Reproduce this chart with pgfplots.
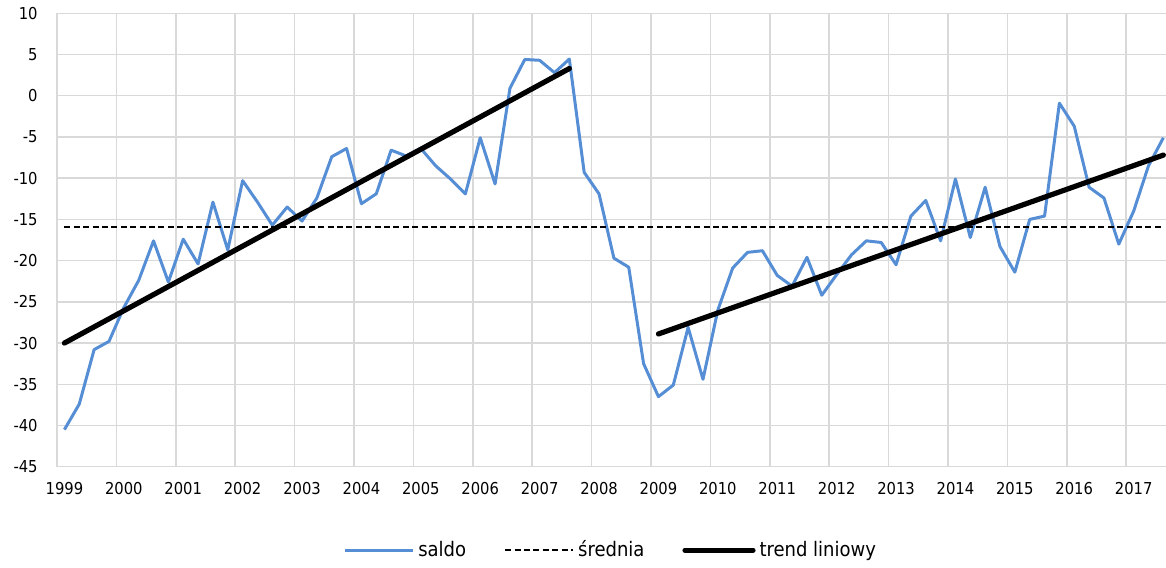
\documentclass[border=0pt]{standalone}
\usepackage{fontspec}
\setmainfont{DejaVu Sans Condensed}
\usepackage{pgfplots}
\pgfplotsset{compat=1.18}
\definecolor{saldoc}{RGB}{85,142,213}
\definecolor{gridc}{RGB}{217,217,217}
\pgfplotstableread{
i v
0 -40.5
1 -37.4
2 -30.8
3 -29.8
4 -25.7
5 -22.4
6 -17.6
7 -22.6
8 -17.4
9 -20.4
10 -12.9
11 -18.7
12 -10.3
13 -12.9
14 -15.7
15 -13.5
16 -15.2
17 -12.4
18 -7.4
19 -6.4
20 -13.1
21 -11.9
22 -6.6
23 -7.3
24 -6.4
25 -8.5
26 -10.1
27 -11.9
28 -5.1
29 -10.7
30 0.9
31 4.4
32 4.3
33 2.8
34 4.45
35 -9.3
36 -11.9
37 -19.7
38 -20.8
39 -32.5
40 -36.5
41 -35.1
42 -28.1
43 -34.4
44 -26.0
45 -20.9
46 -19.0
47 -18.8
48 -21.8
49 -23.1
50 -19.6
51 -24.2
52 -21.7
53 -19.3
54 -17.6
55 -17.8
56 -20.5
57 -14.6
58 -12.7
59 -17.6
60 -10.1
61 -17.2
62 -11.1
63 -18.3
64 -21.4
65 -15.0
66 -14.6
67 -0.9
68 -3.7
69 -11.1
70 -12.4
71 -18.0
72 -14.0
73 -8.5
74 -5.1
}\saldo
\begin{document}
\begin{tikzpicture}
\useasboundingbox (-28.5pt,-50.15pt) rectangle (554.5pt,233.35pt);
\begin{axis}[
  at={(0pt,0pt)}, anchor=south west,
  scale only axis, width=554.65pt, height=226.7pt,
  xmin=-0.5, xmax=74.2, ymin=-45, ymax=10,
  xtick={-0.5,3.5,7.5,11.5,15.5,19.5,23.5,27.5,31.5,35.5,39.5,43.5,47.5,51.5,55.5,59.5,63.5,67.5,71.5},
  xticklabels={1999,2000,2001,2002,2003,2004,2005,2006,2007,2008,2009,2010,2011,2012,2013,2014,2015,2016,2017},
  xticklabel style={anchor=north, inner sep=0pt, yshift=-7.5pt, xshift=3.71pt, font=\fontsize{8.2pt}{9pt}\selectfont},
  ytick={-45,-40,-35,-30,-25,-20,-15,-10,-5,0,5,10},
  yticklabel style={anchor=east, inner sep=0pt, xshift=-9.5pt, font=\fontsize{8.2pt}{9pt}\selectfont},
  /pgf/number format/assume math mode=true,
  grid=major, grid style={gridc, line width=0.75pt},
  axis line style={draw=none}, tick style={draw=none},
  legend style={at={(axis description cs:0.5,-0.184)}, anchor=center, draw=none, fill=none,
    legend columns=3, font=\fontsize{10pt}{12pt}\selectfont,
    /tikz/every even column/.append style={column sep=17pt}},
  legend image code/.code={\draw[#1] (0pt,0pt) -- (34pt,0pt);},
]
\addplot[saldoc, line width=1.5pt, line join=round] table[x=i, y=v] {\saldo};
\addlegendentry{saldo}
\addplot[black, line width=1pt, dash pattern=on 3pt off 1.7pt] coordinates {(0,-15.9) (74,-15.9)};
\addlegendentry{średnia}
\addplot[black, line width=2.6pt, line cap=round] coordinates {(0,-30.0) (34,3.3)};
\addlegendentry{trend liniowy}
\addplot[black, line width=2.6pt, line cap=round, forget plot] coordinates {(40,-28.9) (74,-7.2)};
\end{axis}
\end{tikzpicture}
\end{document}
